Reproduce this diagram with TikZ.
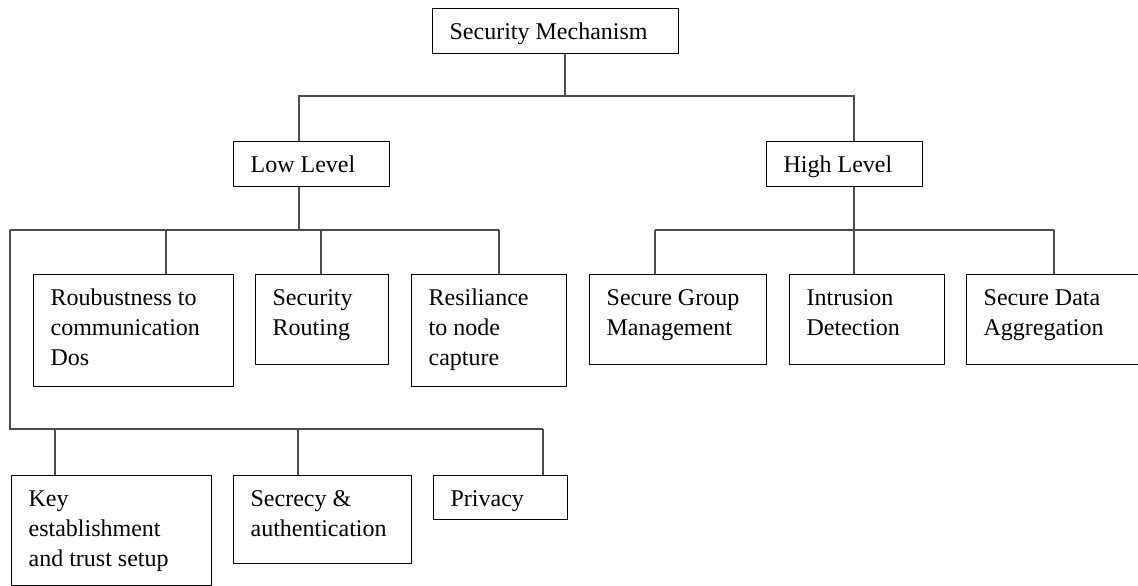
\documentclass[tikz,border=0pt]{standalone}
\usepackage{fontspec}
\setmainfont{Liberation Serif}

% text block inside a box: inner width, height, text
\newcommand{\boxtxt}[3]{\parbox[c][#2][t]{#1}{\rule{0pt}{31pt}#3}}

\begin{document}
\begin{tikzpicture}[x=1pt, y=-1pt,
    every node/.style={font=\fontsize{24}{30}\selectfont},
    blk/.style={draw, line width=1.3pt, anchor=north west, inner xsep=17pt, inner ysep=0pt},
    link/.style={draw=black!70, line width=1.8pt}]

    \useasboundingbox[fill=white] (0,0) rectangle (1138,586);

    \node[blk] (sm) at (432,8) {\boxtxt{212pt}{45pt}{Security Mechanism}};

    \node[blk] (low) at (233,141) {\boxtxt{122pt}{45pt}{Low Level}};
    \node[blk] (high) at (766,141) {\boxtxt{122pt}{45pt}{High Level}};

    \node[blk] (rob) at (33,274) {\boxtxt{166pt}{112pt}{Roubustness to\\communication\\Dos}};
    \node[blk] (rout) at (255,274) {\boxtxt{99pt}{90pt}{Security\\Routing}};
    \node[blk] (res) at (411,274) {\boxtxt{121pt}{112pt}{Resiliance\\to node\\capture}};

    \node[blk] (sgm) at (589,274) {\boxtxt{143pt}{90pt}{Secure Group\\Management}};
    \node[blk] (ids) at (789,274) {\boxtxt{121pt}{90pt}{Intrusion\\Detection}};
    \node[blk] (sda) at (966,274) {\boxtxt{146pt}{90pt}{Secure Data\\Aggregation}};

    \node[blk] (key) at (11,475) {\boxtxt{166pt}{110pt}{Key\\establishment\\and trust setup}};
    \node[blk] (sec) at (233,475) {\boxtxt{144pt}{88pt}{Secrecy \&\\authentication}};
    \node[blk] (priv) at (433,475) {\boxtxt{100pt}{44pt}{Privacy}};

    % top level
    \coordinate (t0) at (565,96);
    \coordinate (t1) at (299,96);
    \coordinate (t2) at (854,96);
    \draw[link] (t0 |- sm.south) -- (t0);
    \draw[link] (t1 |- low.north) -- (t1) -- (t2) -- (t2 |- high.north);

    % low level
    \coordinate (l0) at (299,230);
    \coordinate (l1) at (10,230);
    \coordinate (l2) at (499,230);
    \draw[link] (l0 |- low.south) -- (l0);
    \draw[link] (l1) -- (l2);
    \foreach \x/\n in {166/rob, 321/rout, 499/res} {
      \coordinate (d\n) at (\x,230);
      \draw[link] (d\n) -- (d\n |- \n.north);
    }

    \coordinate (m1) at (10,429);
    \coordinate (m2) at (543,429);
    \draw[link] (l1) -- (m1) -- (m2);
    \foreach \x/\n in {55/key, 298/sec, 543/priv} {
      \coordinate (d\n) at (\x,429);
      \draw[link] (d\n) -- (d\n |- \n.north);
    }

    % high level
    \coordinate (h0) at (854,230);
    \coordinate (h1) at (655,230);
    \coordinate (h2) at (1054,230);
    \draw[link] (h0 |- high.south) -- (h0);
    \draw[link] (h1) -- (h2);
    \foreach \x/\n in {655/sgm, 854/ids, 1054/sda} {
      \coordinate (d\n) at (\x,230);
      \draw[link] (d\n) -- (d\n |- \n.north);
    }
\end{tikzpicture}
\end{document}
